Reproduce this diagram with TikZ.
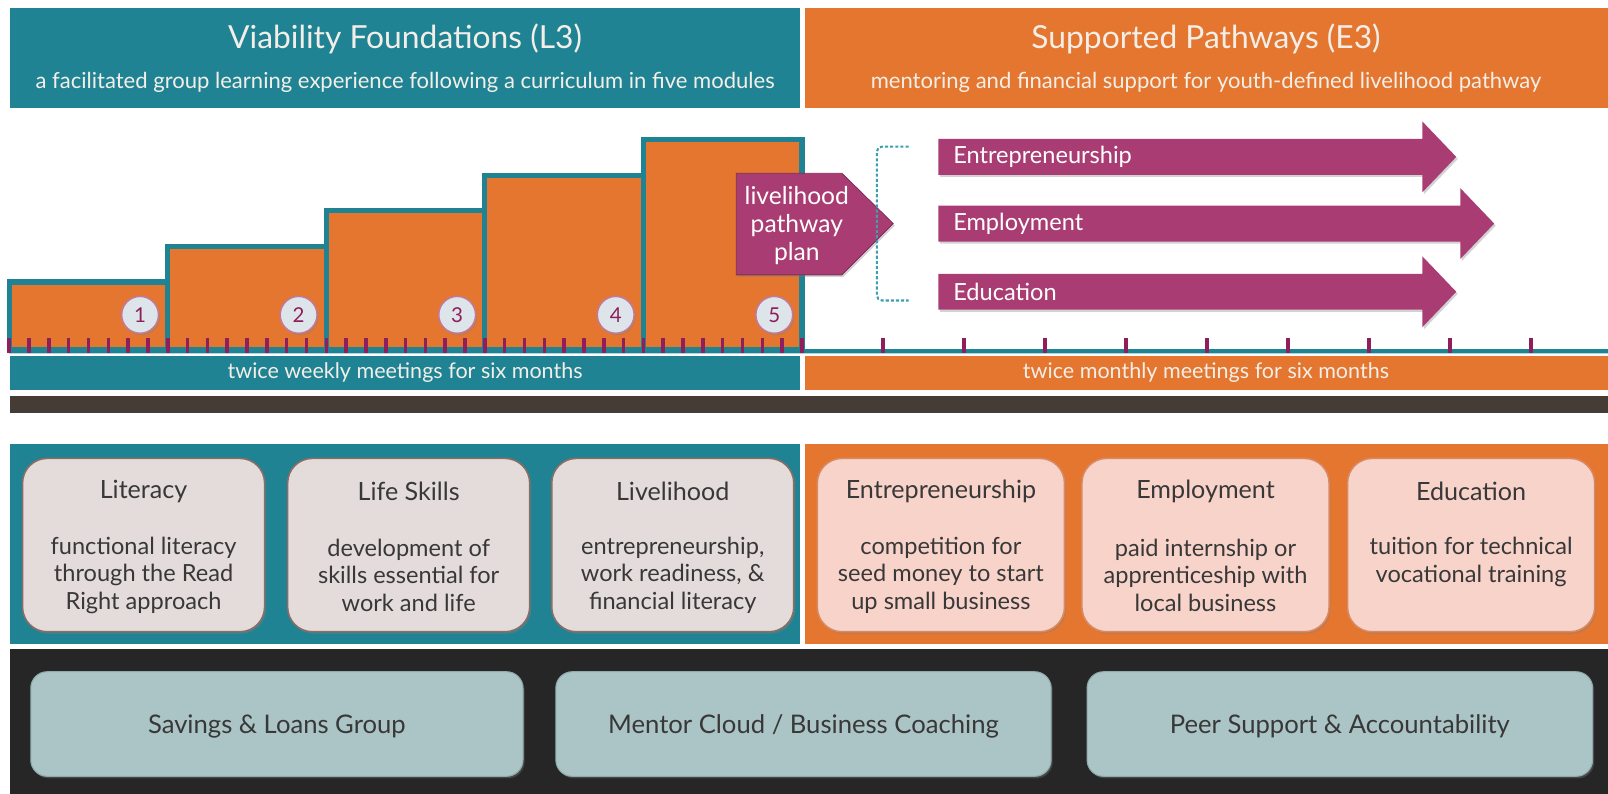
\documentclass[tikz,border=0pt]{standalone}
\usepackage{fontspec}
\setmainfont{Lato}
\usetikzlibrary{shadows}
\definecolor{tealmain}{HTML}{1F8394}
\definecolor{orangemain}{HTML}{E4762F}
\definecolor{plum}{HTML}{A93D73}
\definecolor{plumdark}{HTML}{8E1F5C}
\definecolor{barbrown}{HTML}{463C36}
\definecolor{darkbase}{HTML}{262626}
\definecolor{stonebox}{HTML}{E4DCDB}
\definecolor{stoneline}{HTML}{8B6D64}
\definecolor{peachbox}{HTML}{F8D3CA}
\definecolor{peachline}{HTML}{D98A64}
\definecolor{mistbox}{HTML}{ABC4C6}
\definecolor{mistline}{HTML}{8FAAAC}
\definecolor{headtext}{HTML}{F3EFE8}
\definecolor{badgefill}{HTML}{DDE4EA}
\definecolor{badgeline}{HTML}{C27A98}
\definecolor{bracketteal}{HTML}{3AA0B0}
\tikzset{
	softshadow/.style={drop shadow={opacity=0.35,shadow xshift=1.5pt,shadow yshift=-2pt}},
	headtitle/.style={text=headtext,font=\fontsize{31}{36}\selectfont},
	headsub/.style={text=headtext,font=\fontsize{21.5}{25}\selectfont},
	barlabel/.style={text=headtext,font=\fontsize{21}{25}\selectfont},
	stepfill/.style={fill=orangemain,draw=tealmain,line width=5pt},
	badge/.style={circle,minimum size=36,inner sep=0pt,fill=badgefill,draw=badgeline,line width=1.5pt,softshadow,text=plumdark,font=\fontsize{20}{24}\selectfont},
	routefill/.style={fill=plum,softshadow},
	routelabel/.style={text=white,font=\fontsize{23}{27}\selectfont,anchor=west},
	modulebox/.style={draw=stoneline,line width=1.5pt,fill=stonebox,rounded corners=24pt,softshadow,minimum width=236,minimum height=169},
	pathbox/.style={draw=peachline,line width=1.5pt,fill=peachbox,rounded corners=24pt,softshadow,minimum width=241,minimum height=169},
	supportbox/.style={draw=mistline,line width=1pt,fill=mistbox,rounded corners=16pt,softshadow,minimum height=102},
	boxhead/.style={text=black!78,font=\fontsize{24.5}{28}\selectfont},
	boxtext/.style={text=black!78,font=\fontsize{23}{26.5}\selectfont,align=center},
	supporttext/.style={text=black!78,font=\fontsize{25}{30}\selectfont}
}
\def\routearrow(#1:#2){\fill[routefill] (915,{#2-17.5}) -- ({#1-33},{#2-17.5}) -- ({#1-33},{#2-34.5}) -- (#1,#2) -- ({#1-33},{#2+34.5}) -- ({#1-33},{#2+17.5}) -- (915,{#2+17.5}) -- cycle;}

\begin{document}
\begin{tikzpicture}[x=1pt,y=-1pt]
		%%%%% START %%%%%
		\fill[white] (0,0) rectangle (1568,774);
		\useasboundingbox (0,0) rectangle (1568,774);
		
		\fill[tealmain] (10,8) rectangle (780,105);
		\fill[orangemain] (785,8) rectangle (1568,105);
		\node[headtitle] (vfTitle) at (395,38) {Viability Foundations (L3)};
		\node[headsub] (vfSub) at (395,80) {a facilitated group learning experience following a curriculum in five modules};
		\node[headtitle] (spTitle) at (1176,38) {Supported Pathways (E3)};
		\node[headsub] (spSub) at (1176,80) {mentoring and financial support for youth-defined livelihood pathway};
		
		\foreach \k/\top in {0/275,1/240,2/205,3/171,4/136}
			\draw[stepfill] ({9+154.6*\k},\top) rectangle ({9+154.6*(\k+1)},341);
		
		\draw[tealmain,line width=4pt] (9,342) -- (1568,342);
		\draw[tealmain!35!white,line width=1pt] (9,344.5) -- (1568,344.5);
		\foreach \k in {0,...,40}
			\draw[plumdark,line width=3.5pt] ({9+19.325*\k},330) -- ({9+19.325*\k},344);
		\foreach \k in {1,...,9}
			\draw[plumdark,line width=3.5pt] ({782+79*\k},330) -- ({782+79*\k},344);
		
		\foreach \n in {1,...,5}
			\node[badge] (mod\n) at ({9+154.6*\n-27},307) {\n};
		
		\fill[plum,draw=plum!75!black,line width=0.8pt,softshadow] (718,169) -- (821,169) -- (871,218) -- (821,268) -- (718,268) -- cycle;
		\node[text=white,font=\fontsize{24}{27}\selectfont,align=center] (planLabel) at (777,220) {livelihood\\pathway\\plan};
		
		\draw[bracketteal,line width=2pt,dash pattern=on 3pt off 2pt,rounded corners=5pt] (886,143) -- (855,143) -- (855,293) -- (886,293);
		
		\routearrow(1420:153)
		\routearrow(1457:218)
		\routearrow(1420:284.5)
		\node[routelabel] (goEnt) at (926,153) {Entrepreneurship};
		\node[routelabel] (goEmp) at (926,218) {Employment};
		\node[routelabel] (goEdu) at (926,284.5) {Education};
		
		\fill[tealmain] (10,347) rectangle (780,380);
		\fill[orangemain] (785,347) rectangle (1568,380);
		\node[barlabel] (weekly) at (395,363) {twice weekly meetings for six months};
		\node[barlabel] (monthly) at (1176,363) {twice monthly meetings for six months};
		
		\fill[barbrown] (10,386) rectangle (1568,403);
		
		\fill[tealmain] (10,433) rectangle (780,628);
		\fill[orangemain] (785,433) rectangle (1568,628);
		
		\node[modulebox] (litBox) at (140,531.5) {};
		\node[boxhead] (litHead) at (140,479) {Literacy};
		\node[boxtext] (litText) at (140,561) {functional literacy\\through the Read\\Right approach};
		
		\node[modulebox] (lifeBox) at (398.5,531.5) {};
		\node[boxhead] (lifeHead) at (398.5,479) {Life Skills};
		\node[boxtext] (lifeText) at (398.5,561) {development of\\skills essential for\\work and life};
		
		\node[modulebox] (liveBox) at (656,531.5) {};
		\node[boxhead] (liveHead) at (656,479) {Livelihood};
		\node[boxtext] (liveText) at (656,561) {entrepreneurship,\\work readiness, \&\\financial literacy};
		
		\node[pathbox] (entBox) at (917.5,531.5) {};
		\node[boxhead] (entHead) at (917.5,479) {Entrepreneurship};
		\node[boxtext] (entText) at (917.5,561) {competition for\\seed money to start\\up small business};
		
		\node[pathbox] (empBox) at (1175.5,531.5) {};
		\node[boxhead] (empHead) at (1175.5,479) {Employment};
		\node[boxtext] (empText) at (1175.5,561) {paid internship or\\apprenticeship with\\local business};
		
		\node[pathbox] (eduBox) at (1434.5,531.5) {};
		\node[boxhead] (eduHead) at (1434.5,479) {Education};
		\node[boxtext] (eduText) at (1434.5,548) {tuition for technical\\vocational training};
		
		\fill[darkbase] (10,633) rectangle (1568,774);
		\node[supportbox,minimum width=480] (saveBox) at (270,706) {};
		\node[supporttext] (saveText) at (270,708) {Savings \& Loans Group};
		\node[supportbox,minimum width=483] (mentorBox) at (783.5,706) {};
		\node[supporttext] (mentorText) at (783.5,708) {Mentor Cloud / Business Coaching};
		\node[supportbox,minimum width=493] (peerBox) at (1306.5,706) {};
		\node[supporttext] (peerText) at (1306.5,708) {Peer Support \& Accountability};
		%%%%% END %%%%%
\end{tikzpicture}
\end{document}
